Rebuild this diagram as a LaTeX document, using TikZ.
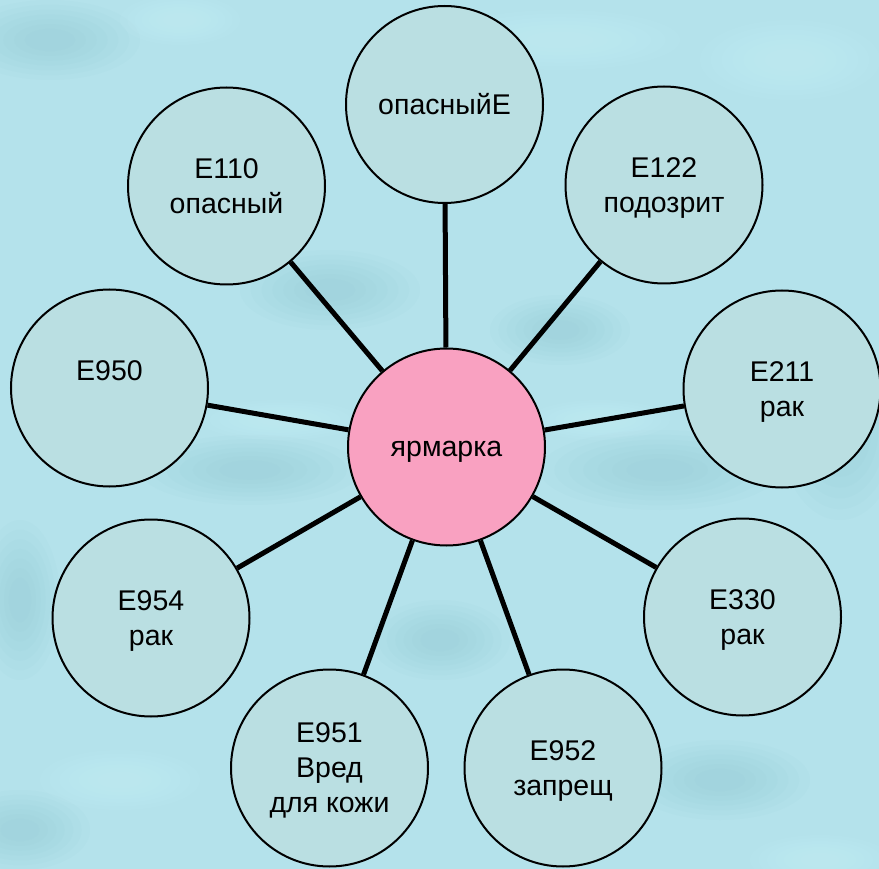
\documentclass[tikz,border=0pt]{standalone}
\usepackage{fontspec}
\setmainfont{Liberation Sans}
\definecolor{bgbase}{RGB}{180,226,235}
\definecolor{bgdark}{RGB}{140,198,210}
\definecolor{bglight}{RGB}{208,245,252}
\definecolor{bubblefill}{RGB}{186,223,226}
\definecolor{hubpink}{RGB}{249,161,193}
\newcommand\ls{\rule[-0.212em]{0pt}{1.117em}}
\newcommand\blob[5]{%
  \foreach \k in {1.0,0.88,0.76,0.64,0.52,0.40,0.28}{%
    \fill[#5,opacity=0.07] (#1,#2) ellipse[x radius=\k*#3, y radius=\k*#4];}}
\begin{document}
\begin{tikzpicture}[x=1pt,y=-1pt,
  bubble/.style={circle, draw=black, line width=2pt, fill=bubblefill,
    minimum size=197pt, inner sep=0pt, align=center,
    font=\fontsize{28.5}{35}\selectfont},
  hub/.style={bubble, fill=hubpink},
  link/.style={line width=5pt, draw=black}]
\fill[bgbase] (0,0) rectangle (879,869);
\useasboundingbox (0,0) rectangle (879,869);
% soft background texture
\blob{50}{40}{90}{40}{bgdark}
\blob{180}{20}{60}{25}{bglight}
\blob{560}{40}{120}{30}{bglight}
\blob{790}{60}{90}{40}{bglight}
\blob{330}{290}{90}{40}{bgdark}
\blob{560}{330}{70}{35}{bgdark}
\blob{250}{470}{110}{35}{bgdark}
\blob{280}{420}{80}{20}{bglight}
\blob{660}{470}{120}{40}{bgdark}
\blob{840}{430}{60}{90}{bgdark}
\blob{600}{420}{70}{20}{bglight}
\blob{20}{600}{40}{80}{bgdark}
\blob{20}{830}{70}{40}{bgdark}
\blob{440}{640}{70}{40}{bgdark}
\blob{720}{780}{90}{40}{bgdark}
\blob{120}{780}{80}{30}{bglight}
\blob{820}{860}{70}{25}{bglight}
% nodes
\node[hub] (c) at (446.5,447) {\ls ярмарка};
\node[bubble] (n1) at (444.5,104.5) {\ls опасныйЕ};
\node[bubble] (n2) at (664,185) {\ls E122\\\ls подозрит};
\node[bubble] (n3) at (782,389) {\ls E211\\\ls рак};
\node[bubble] (n4) at (742.5,617) {\ls E330\\\ls рак};
\node[bubble] (n5) at (563,768) {\ls E952\\\ls запрещ};
\node[bubble] (n6) at (329.5,768) {\ls E951\\\ls Вред\\\ls для кожи};
\node[bubble] (n7) at (151,618) {\ls E954\\\ls рак};
\node[bubble] (n8) at (109.5,388) {\ls E950\\\ls};
\node[bubble] (n9) at (226.5,186) {\ls E110\\\ls опасный};
% connectors
\foreach \n in {n1,n2,n3,n4,n5,n6,n7,n8,n9}
  \draw[link] (c) -- (\n);
\end{tikzpicture}
\end{document}
